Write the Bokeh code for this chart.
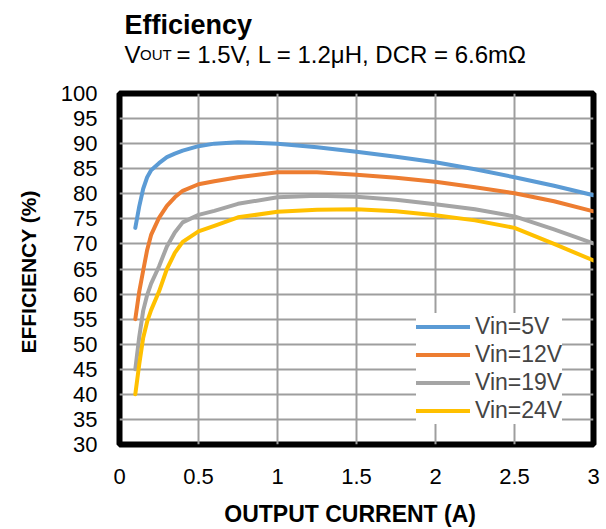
from bokeh.plotting import figure
from bokeh.layouts import column
from bokeh.models import Range1d, FixedTicker, Legend, LegendItem
from bokeh.core.properties import value
from bokeh.embed import file_html
from bokeh.resources import INLINE

# ---- data ----
current = [0.1, 0.125, 0.15, 0.175, 0.2, 0.25, 0.3, 0.35, 0.4, 0.5, 0.6, 0.75,
           1.0, 1.25, 1.5, 1.75, 2.0, 2.25, 2.5, 2.75, 3.0]
eff_5v = [73.2, 77.5, 81.0, 83.3, 84.7, 86.1, 87.3, 88.0, 88.6, 89.5, 90.0, 90.3,
          90.0, 89.3, 88.4, 87.4, 86.3, 84.9, 83.3, 81.6, 79.7]
eff_12v = [55.0, 60.5, 64.7, 68.8, 71.8, 75.2, 77.6, 79.3, 80.6, 81.9, 82.5, 83.3,
           84.3, 84.3, 83.8, 83.2, 82.4, 81.3, 80.1, 78.5, 76.5]
eff_19v = [45.0, 51.5, 56.7, 59.8, 62.1, 65.5, 69.5, 72.3, 74.3, 75.8, 76.6, 78.0,
           79.3, 79.6, 79.4, 78.8, 77.9, 76.9, 75.5, 72.9, 70.1]
eff_24v = [40.0, 46.0, 51.3, 54.5, 56.8, 60.5, 65.0, 68.2, 70.4, 72.5, 73.6, 75.3,
           76.4, 76.8, 76.9, 76.5, 75.7, 74.7, 73.2, 70.0, 66.7]
series_names = ["Vin=5V", "Vin=12V", "Vin=19V", "Vin=24V"]
series_colors = ["#5B9BD5", "#ED7D31", "#A5A5A5", "#FFC000"]

x_ticks = [0, 0.5, 1, 1.5, 2, 2.5, 3]
x_tick_labels = ["0", "0.5", "1", "1.5", "2", "2.5", "3"]
y_ticks = list(range(30, 101, 5))

title_text = "Efficiency"
subtitle_v = "V"
subtitle_sub = "OUT"
subtitle_rest = "= 1.5V, L = 1.2μH, DCR = 6.6mΩ"
x_label = "OUTPUT  CURRENT  (A)"
y_label = "EFFICIENCY  (%)"

FONT = "Liberation Sans"
W = 604
HEAD_H = 79
FRAME_L, FRAME_R = 119, 593   # page pixels of the chart frame

# ---- header (title + subtitle); its frame is aligned with the chart frame,
# so its x range is given in page pixels ----
head = figure(width=W, height=HEAD_H, output_backend="svg", toolbar_location=None,
              x_range=Range1d(FRAME_L, FRAME_R), y_range=Range1d(0, HEAD_H),
              x_axis_type=None, y_axis_type=None, min_border=0)
head.outline_line_color = None
head.background_fill_color = "white"
head.border_fill_color = "white"
head.text(x=[124], y=[54.3], text=[title_text], text_font=value(FONT),
          text_font_size=value("27px"), text_font_style="bold",
          text_baseline="alphabetic", text_color="black")
head.text(x=[124], y=[25], text=[subtitle_v], text_font=value(FONT),
          text_font_size=value("24px"), text_baseline="alphabetic",
          text_color="black")
head.text(x=[139.5], y=[25], text=[subtitle_sub], text_font=value(FONT),
          text_font_size=value("15px"), text_baseline="alphabetic",
          text_color="black")
head.text(x=[176], y=[25], text=[subtitle_rest], text_font=value(FONT),
          text_font_size=value("24px"), text_baseline="alphabetic",
          text_color="black")

# ---- main chart ----
p = figure(width=W, height=450, output_backend="svg", toolbar_location=None,
           x_range=Range1d(0, 3), y_range=Range1d(30, 100),
           min_border_left=FRAME_L, min_border_right=W - FRAME_R,
           min_border_top=14, min_border_bottom=81)
p.background_fill_color = "white"
p.border_fill_color = "white"
p.outline_line_color = "black"
p.outline_line_width = 6

for ax in (p.xaxis[0], p.yaxis[0]):
    ax.axis_line_color = None
    ax.major_tick_line_color = None
    ax.minor_tick_line_color = None
    ax.major_tick_out = 0
    ax.major_tick_in = 0
    ax.major_label_text_font = FONT
    ax.major_label_text_font_size = "22px"
    ax.major_label_text_color = "black"
    ax.axis_label_text_font = FONT
    ax.axis_label_text_font_style = "bold"
    ax.axis_label_text_color = "black"

p.xaxis.ticker = FixedTicker(ticks=x_ticks)
p.xaxis.major_label_overrides = {t: l for t, l in zip(x_ticks, x_tick_labels)}
p.xaxis.major_label_standoff = 24
p.xaxis.axis_label = x_label
p.xaxis.axis_label_text_font_size = "23px"
p.xaxis.axis_label_standoff = 14

p.yaxis.ticker = FixedTicker(ticks=y_ticks)
p.yaxis.major_label_standoff = 22
p.yaxis.axis_label = y_label
p.yaxis.axis_label_text_font_size = "21px"
p.yaxis.axis_label_standoff = 18

p.xgrid.ticker = FixedTicker(ticks=x_ticks)
p.ygrid.ticker = FixedTicker(ticks=y_ticks)
for g in (p.xgrid[0], p.ygrid[0]):
    g.grid_line_color = "#9E9E9E"
    g.grid_line_width = 2

items = []
for name, color, ys in zip(series_names, series_colors,
                           [eff_5v, eff_12v, eff_19v, eff_24v]):
    r = p.line(current, ys, line_color=color, line_width=4,
               line_cap="round", line_join="round")
    items.append(LegendItem(label=name, renderers=[r]))

legend = Legend(items=items, location=(297, 20), padding=2, spacing=1,
                margin=0, glyph_width=54, glyph_height=27, label_height=27,
                label_standoff=5, label_text_font=FONT,
                label_text_font_size="23px", border_line_color=None,
                background_fill_color="white", background_fill_alpha=1.0)
p.add_layout(legend, "center")

layout = column(head, p, spacing=0)
open("out.html", "w").write(file_html(layout, INLINE))
